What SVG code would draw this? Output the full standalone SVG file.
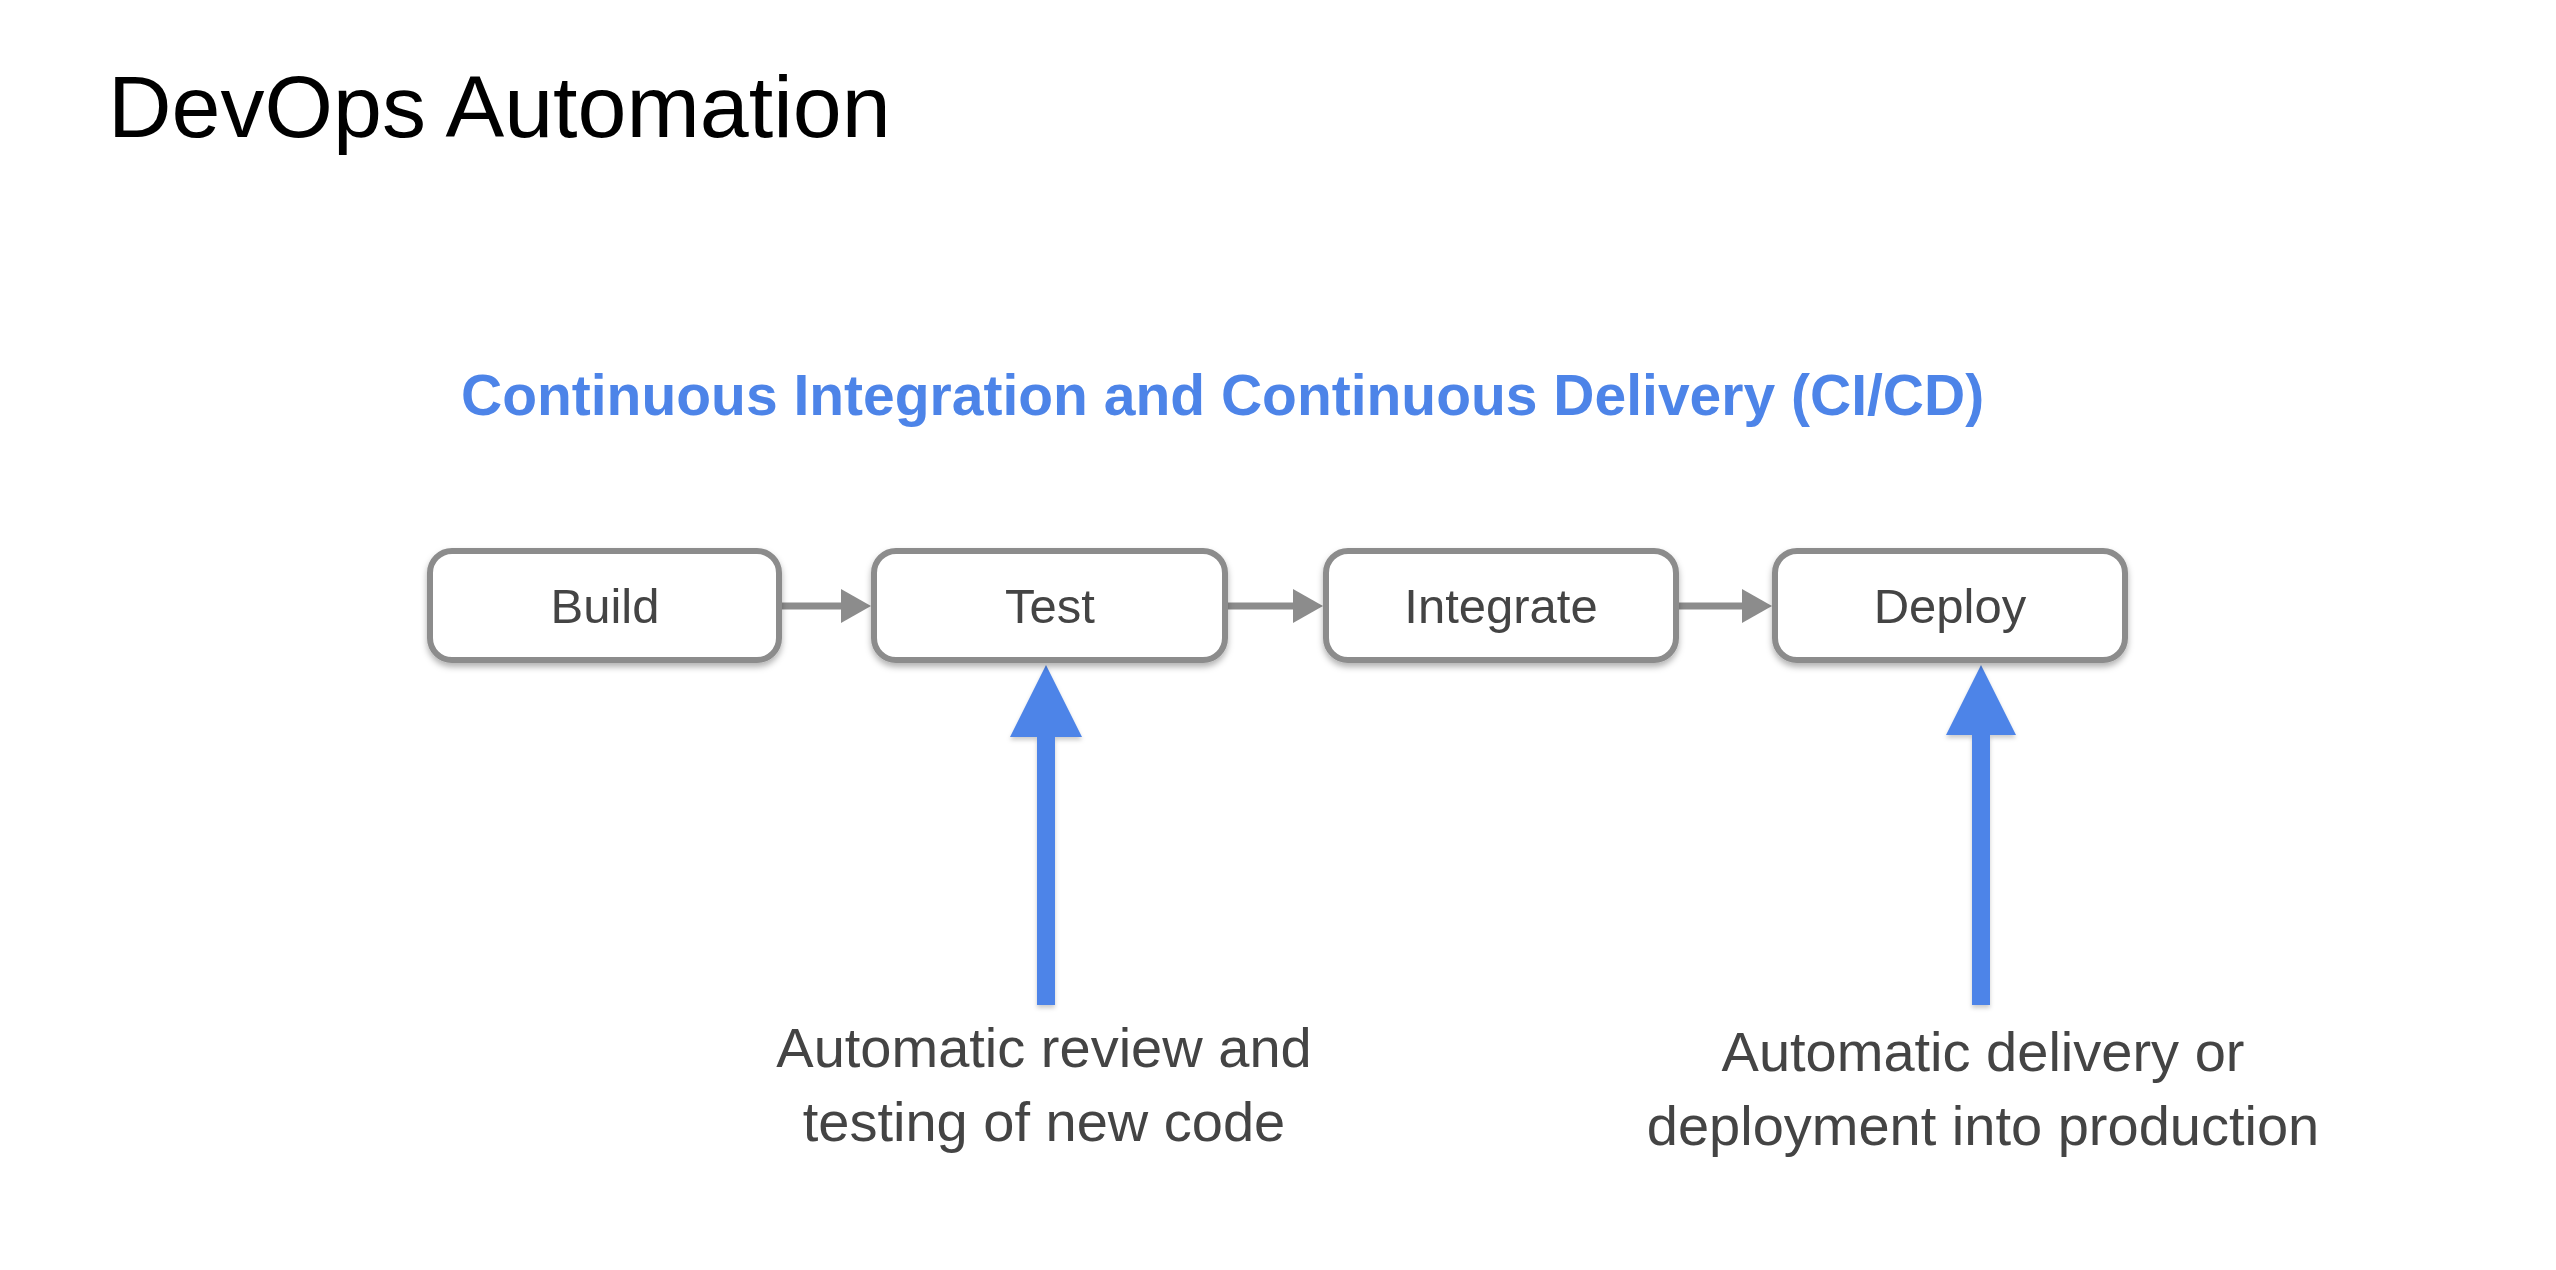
<svg xmlns="http://www.w3.org/2000/svg" width="2556" height="1270" viewBox="0 0 2556 1270">
<style>
.title{font-family:"Liberation Sans",Arial,Helvetica,sans-serif;font-size:88px;fill:#000}
.sub{font-family:"Liberation Sans",Arial,Helvetica,sans-serif;font-size:57px;font-weight:bold;fill:#4d84e8}
.box{fill:#fff;stroke:#8c8c8c;stroke-width:6}
.lbl{font-family:"Liberation Sans",Arial,Helvetica,sans-serif;font-size:49px;fill:#444;text-anchor:middle}
.note{font-family:"Liberation Sans",Arial,Helvetica,sans-serif;font-size:56px;fill:#444;text-anchor:middle}
.gl{stroke:#8c8c8c;stroke-width:7;fill:none}
.gh{fill:#8c8c8c}
.blue{fill:#4d84e8}
</style>
<defs>
<filter id="sh" x="-10%" y="-20%" width="120%" height="150%">
<feDropShadow dx="0" dy="4" stdDeviation="3" flood-color="#000" flood-opacity="0.3"/>
</filter>
<filter id="sh2" x="-50%" y="-10%" width="200%" height="120%">
<feDropShadow dx="0" dy="3" stdDeviation="2" flood-color="#000" flood-opacity="0.2"/>
</filter>
</defs>
<rect width="2556" height="1270" fill="#fff"/>
<text class="title" x="108" y="137">DevOps Automation</text>
<text class="sub" x="461" y="415">Continuous Integration and Continuous Delivery (CI/CD)</text>
<g id="connectors">
<line class="gl" x1="782" y1="606" x2="846" y2="606"/>
<polygon class="gh" points="841,589 871,606 841,623"/>
<line class="gl" x1="1228" y1="606" x2="1298" y2="606"/>
<polygon class="gh" points="1293,589 1323,606 1293,623"/>
<line class="gl" x1="1679" y1="606" x2="1747" y2="606"/>
<polygon class="gh" points="1742,589 1772,606 1742,623"/>
<polygon class="blue" filter="url(#sh2)" points="1046,665 1082,737 1055,737 1055,1005 1037,1005 1037,737 1010,737"/>
<polygon class="blue" filter="url(#sh2)" points="1981,665 2016,735 1990,735 1990,1005 1972,1005 1972,735 1946,735"/>
</g>
<g id="build">
<rect class="box" filter="url(#sh)" x="430" y="551" width="349" height="109" rx="22"/>
<text class="lbl" x="605" y="623">Build</text>
</g>
<g id="test">
<rect class="box" filter="url(#sh)" x="874" y="551" width="351" height="109" rx="22"/>
<text class="lbl" x="1050" y="623">Test</text>
</g>
<g id="integrate">
<rect class="box" filter="url(#sh)" x="1326" y="551" width="350" height="109" rx="22"/>
<text class="lbl" x="1501" y="623">Integrate</text>
</g>
<g id="deploy">
<rect class="box" filter="url(#sh)" x="1775" y="551" width="350" height="109" rx="22"/>
<text class="lbl" x="1950" y="623">Deploy</text>
</g>
<g id="note-test">
<text class="note" x="1044" y="1067">Automatic review and</text>
<text class="note" x="1044" y="1141">testing of new code</text>
</g>
<g id="note-deploy">
<text class="note" x="1983" y="1071">Automatic delivery or</text>
<text class="note" x="1983" y="1145">deployment into production</text>
</g>
</svg>
